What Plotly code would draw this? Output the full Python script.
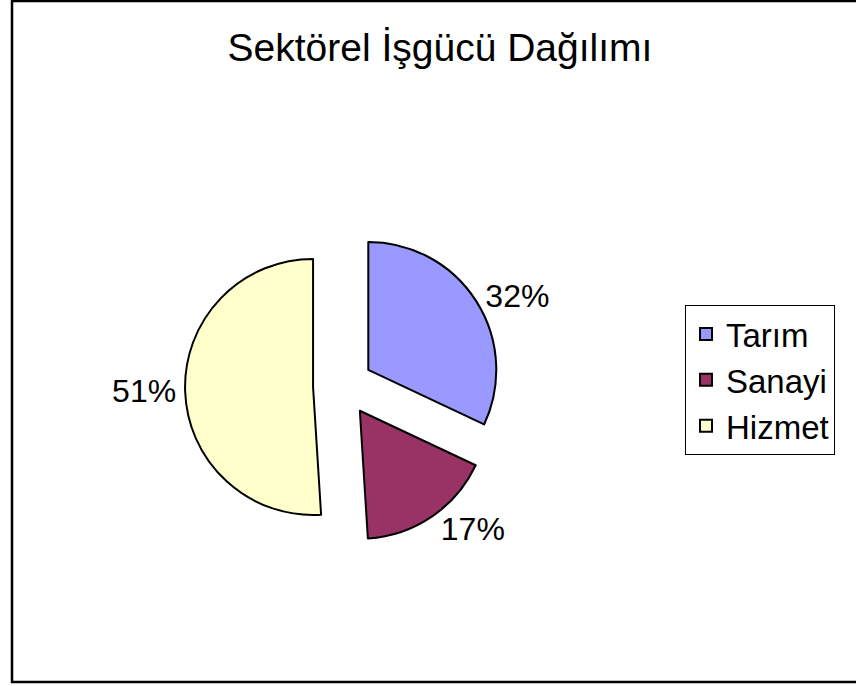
import plotly.graph_objects as go

W, H = 856, 686

categories = ["Tarım", "Sanayi", "Hizmet"]
values = [32, 17, 51]
colors = ["#9999FF", "#993366", "#FFFFCC"]
title_text = "Sektörel İşgücü Dağılımı"

pull = 0.234
# unpulled pie centre (px) and radius
cx, cy, r = 343, 386, 128
box = r * (2 + 2 * pull)

FONT = "Liberation Sans, Arial"

fig = go.Figure(go.Pie(
    labels=categories,
    values=values,
    sort=False,
    direction="clockwise",
    rotation=0,
    pull=[pull] * len(values),
    marker=dict(colors=colors, line=dict(color="black", width=2)),
    textinfo="percent",
    texttemplate="%{percent:.0%}",
    textposition="outside",
    textfont=dict(family=FONT, size=32, color="black"),
    domain=dict(x=[(cx - box / 2) / W, (cx + box / 2) / W],
                y=[(H - cy - box / 2) / H, (H - cy + box / 2) / H]),
    hoverinfo="label+percent",
))

fig.update_layout(
    width=W, height=H,
    margin=dict(l=0, r=0, t=0, b=0),
    paper_bgcolor="white",
    plot_bgcolor="white",
    title=dict(text=title_text, x=440 / W, y=1 - 47 / H, xanchor="center", yanchor="middle",
               font=dict(family=FONT, size=39, color="black")),
    legend=dict(x=685 / W, y=1 - 305 / H, xanchor="left", yanchor="top",
                bordercolor="black", borderwidth=1, bgcolor="white",
                font=dict(family=FONT, size=33, color="black"),
                itemwidth=30),
    shapes=[dict(type="rect", xref="paper", yref="paper",
                 x0=12 / W, x1=870 / W, y0=1 - 682 / H, y1=1 - 1 / H,
                 line=dict(color="black", width=2.5))],
)

fig.write_html("out.html",
               config={"displayModeBar": False},
               post_script="document.body.style.margin='0';document.body.style.overflow='hidden';")
